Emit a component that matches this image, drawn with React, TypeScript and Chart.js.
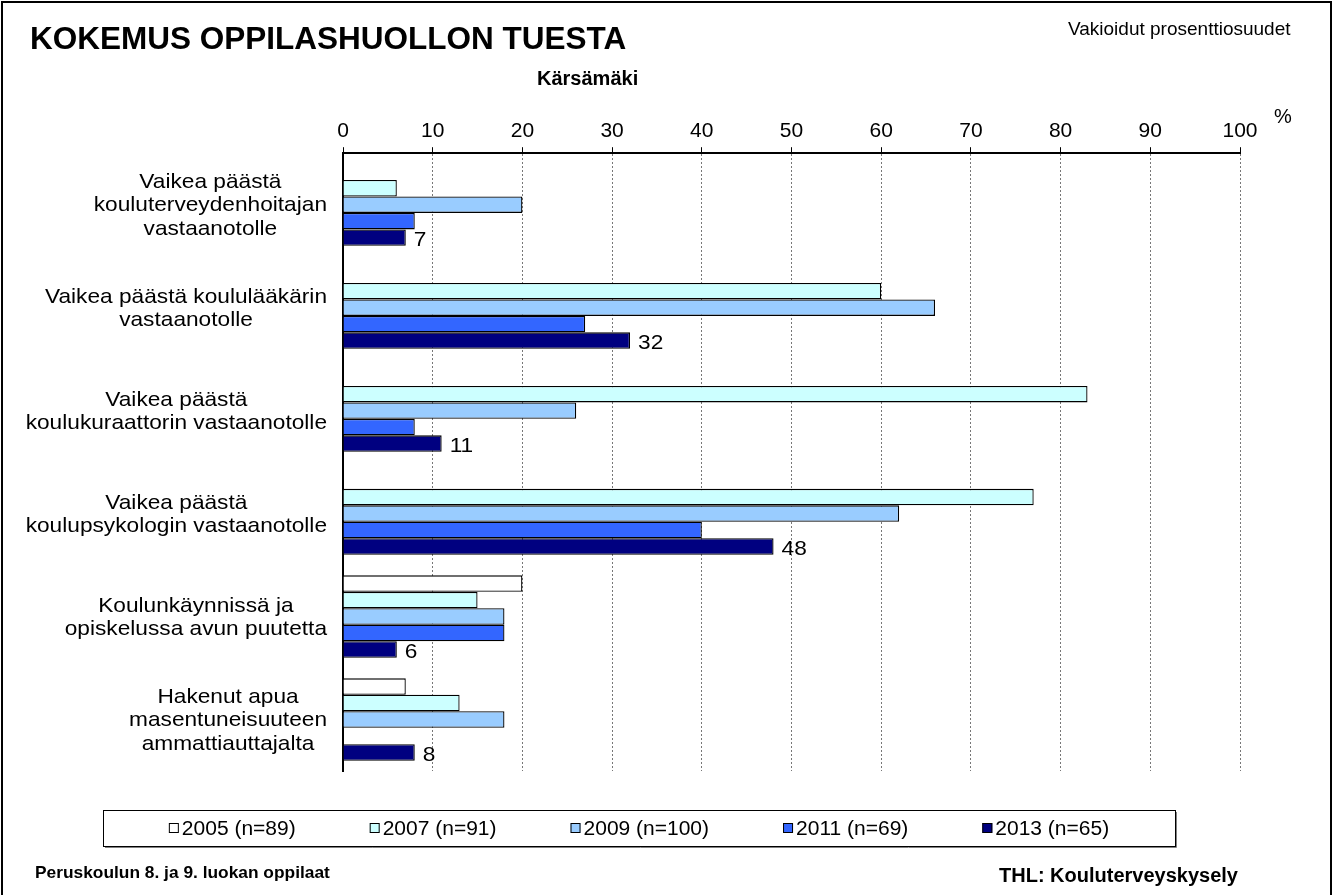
import React, { useEffect, useRef } from 'react';
import { Chart, registerables } from 'chart.js';

Chart.register(...registerables);

// ---------- data ----------
const categories: string[][] = [
  ['Vaikea päästä', 'kouluterveydenhoitajan', 'vastaanotolle'],
  ['Vaikea päästä koululääkärin', 'vastaanotolle'],
  ['Vaikea päästä', 'koulukuraattorin vastaanotolle'],
  ['Vaikea päästä', 'koulupsykologin vastaanotolle'],
  ['Koulunkäynnissä ja', 'opiskelussa avun puutetta'],
  ['Hakenut apua', 'masentuneisuuteen', 'ammattiauttajalta'],
];
const seriesLabels = ['2005 (n=89)', '2007 (n=91)', '2009 (n=100)', '2011 (n=69)', '2013 (n=65)'];
const values2005: (number | null)[] = [null, null, null, null, 20, 7];
const values2007: (number | null)[] = [6, 60, 83, 77, 15, 13];
const values2009: (number | null)[] = [20, 66, 26, 62, 18, 18];
const values2011: (number | null)[] = [8, 27, 8, 40, 18, null];
const values2013: (number | null)[] = [7, 32, 11, 48, 6, 8];
const seriesColors = ['#FFFFFF', '#CCFFFF', '#99CCFF', '#3366FF', '#000080'];
const axisMin = 0;
const axisMax = 100;
const axisStep = 10;
const labelledSeriesIndex = 4;

const FONT = "'Liberation Sans', Arial, sans-serif";

function scaledText(ctx: CanvasRenderingContext2D, text: string, x: number, y: number, sx: number, align: CanvasTextAlign) {
  ctx.save();
  ctx.translate(x, y);
  ctx.scale(sx, 1);
  ctx.textAlign = align;
  ctx.fillText(text, 0, 0);
  ctx.restore();
}

const categoryLabelPlugin = {
  id: 'categoryLabels',
  afterDraw(chart: any) {
    const ys = chart.scales.y;
    const ctx: CanvasRenderingContext2D = chart.ctx;
    const sx = 1.08;
    ctx.save();
    ctx.font = `21px ${FONT}`;
    ctx.fillStyle = '#000';
    ctx.textBaseline = 'middle';
    const right = ys.right - 16;
    categories.forEach((lines, i) => {
      const yc = ys.getPixelForTick(i) + 1;
      const widths = lines.map((l) => ctx.measureText(l).width * sx);
      const bw = Math.max(...widths);
      const cx = right - bw / 2;
      lines.forEach((line, j) => {
        const ly = yc + (j - (lines.length - 1) / 2) * 23.5;
        scaledText(ctx, line, cx, ly, sx, 'center');
      });
    });
    ctx.restore();
  },
};

const valueLabelPlugin = {
  id: 'valueLabels',
  afterDatasetsDraw(chart: any) {
    const ctx: CanvasRenderingContext2D = chart.ctx;
    const meta = chart.getDatasetMeta(labelledSeriesIndex);
    const data = chart.data.datasets[labelledSeriesIndex].data;
    ctx.save();
    ctx.font = `21px ${FONT}`;
    ctx.fillStyle = '#000';
    ctx.textBaseline = 'middle';
    meta.data.forEach((el: any, i: number) => {
      const v = data[i];
      if (v === null || v === undefined) return;
      scaledText(ctx, String(v), el.x + 8, el.y + 3, 1.08, 'left');
    });
    ctx.restore();
  },
};

const boxLegendPlugin = {
  id: 'boxLegend',
  afterDraw(chart: any) {
    const ctx: CanvasRenderingContext2D = chart.ctx;
    const sx = 1.05;
    const boxL = 103, boxT = 810, boxR = 1175, boxB = 846;
    ctx.save();
    ctx.strokeStyle = '#000';
    ctx.lineWidth = 1;
    ctx.strokeRect(boxL + 0.5, boxT + 0.5, boxR - boxL, boxB - boxT);
    ctx.strokeStyle = '#808080';
    ctx.beginPath();
    ctx.moveTo(boxL + 2, boxB + 1.5);
    ctx.lineTo(boxR + 1.5, boxB + 1.5);
    ctx.lineTo(boxR + 1.5, boxT + 2);
    ctx.stroke();

    ctx.font = `20px ${FONT}`;
    ctx.textBaseline = 'middle';
    const ds = chart.data.datasets;
    const widths = ds.map((d: any) => ctx.measureText(d.label).width * sx);
    const gapText = 13;
    const gapItem = 74;
    const total = widths.reduce((a: number, w: number) => a + gapText + w, 0) + gapItem * (ds.length - 1);
    let x = (boxL + boxR) / 2 - total / 2;
    const yc = 828;
    ds.forEach((d: any, i: number) => {
      ctx.fillStyle = d.backgroundColor;
      ctx.fillRect(x, yc - 5, 10, 10);
      ctx.strokeStyle = '#000';
      ctx.lineWidth = 1;
      ctx.strokeRect(x + 0.5, yc - 4.5, 9, 9);
      ctx.fillStyle = '#000';
      scaledText(ctx, d.label, x + gapText, yc + 1, sx, 'left');
      x += gapText + widths[i] + gapItem;
    });
    ctx.restore();
  },
};

function Txt(props: { x: number; baseline: number; size: number; bold?: boolean; sx?: number; children: any }) {
  const { x, baseline, size, bold, sx = 1, children } = props;
  return (
    <div
      style={{
        position: 'absolute',
        left: x,
        top: baseline - 0.8465 * size,
        fontFamily: FONT,
        fontSize: size,
        fontWeight: bold ? 'bold' : 'normal',
        lineHeight: `${size}px`,
        whiteSpace: 'nowrap',
        transform: `scaleX(${sx})`,
        transformOrigin: '0 0',
        color: '#000',
      }}
    >
      {children}
    </div>
  );
}

export default function App() {
  const canvasRef = useRef<HTMLCanvasElement | null>(null);

  useEffect(() => {
    const canvas = canvasRef.current;
    if (!canvas) return;
    const seriesValues = [values2005, values2007, values2009, values2011, values2013];
    const chart = new Chart(canvas, {
      type: 'bar',
      data: {
        labels: categories,
        datasets: seriesLabels.map((label, i) => ({
          label,
          data: seriesValues[i],
          backgroundColor: seriesColors[i],
          borderColor: '#000000',
          borderWidth: 1.3,
          categoryPercentage: 0.8,
          barPercentage: 1.0,
        })),
      },
      options: {
        indexAxis: 'y',
        responsive: false,
        animation: false,
        devicePixelRatio: 1,
        layout: { padding: { left: 20, right: 93, top: 116, bottom: 124 } },
        plugins: {
          legend: { display: false },
          title: { display: false },
          tooltip: { enabled: false },
        },
        scales: {
          x: {
            position: 'top',
            min: axisMin,
            max: axisMax,
            ticks: {
              stepSize: axisStep,
              color: '#000',
              font: { family: FONT, size: 21 },
              padding: 3,
            },
            grid: {
              color: '#777777',
              lineWidth: 1,
              tickLength: 6,
              tickColor: '#000',
              tickWidth: 1,
            },
            border: { display: true, color: '#000', width: 2, dash: [2, 2] },
          },
          y: {
            ticks: { display: false },
            grid: { display: false },
            border: { display: true, color: '#000', width: 2 },
            afterFit(scale: any) {
              scale.width = 323;
            },
          },
        },
      },
      plugins: [valueLabelPlugin, categoryLabelPlugin, boxLegendPlugin],
    } as any);
    return () => chart.destroy();
  }, []);

  return (
    <div style={{ position: 'fixed', left: 0, top: 0, width: 1333, height: 895, overflow: 'hidden', background: '#fff' }}>
      <div style={{ position: 'absolute', left: 1, top: 1, width: 1327, height: 950, border: '2px solid #000' }} />
      <canvas ref={canvasRef} width={1333} height={895} style={{ position: 'absolute', left: 0, top: 0 }} />
      <Txt x={30} baseline={50} size={31.5} bold>KOKEMUS OPPILASHUOLLON TUESTA</Txt>
      <Txt x={1068} baseline={35} size={19}>Vakioidut prosenttiosuudet</Txt>
      <Txt x={537} baseline={85} size={20} bold>Kärsämäki</Txt>
      <Txt x={1274} baseline={123} size={20}>%</Txt>
      <Txt x={35} baseline={878} size={17} bold sx={1.02}>Peruskoulun 8. ja 9. luokan oppilaat</Txt>
      <Txt x={999} baseline={882} size={20} bold>THL: Kouluterveyskysely</Txt>
    </div>
  );
}
